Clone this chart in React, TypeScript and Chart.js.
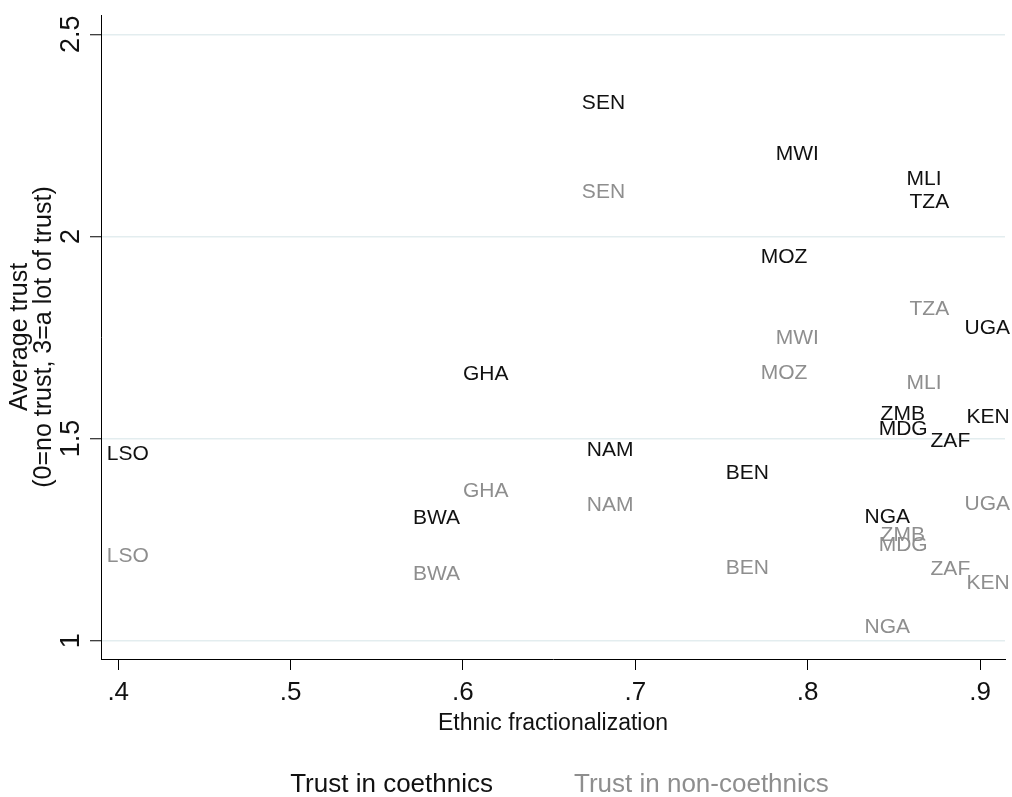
import React, { useEffect, useRef } from "react";
import { Chart, registerables } from "chart.js";

Chart.register(...registerables);

// ---- Data ----
const COUNTRIES = ["LSO", "BWA", "GHA", "SEN", "NAM", "BEN", "MOZ", "MWI", "NGA", "ZMB", "MDG", "MLI", "TZA", "ZAF", "KEN", "UGA"];
const FRACTIONALIZATION = [0.3905, 0.5681, 0.5971, 0.6661, 0.669, 0.7496, 0.7699, 0.7786, 0.8301, 0.8394, 0.8383, 0.8545, 0.8562, 0.8684, 0.8893, 0.8881];
const TRUST_COETHNICS = [1.465, 1.307, 1.663, 2.332, 1.475, 1.418, 1.953, 2.208, 1.309, 1.564, 1.527, 2.146, 2.089, 1.498, 1.557, 1.777];
const TRUST_NONCOETHNICS = [1.213, 1.168, 1.374, 2.114, 1.339, 1.183, 1.666, 1.752, 1.037, 1.265, 1.24, 1.641, 1.824, 1.181, 1.146, 1.342];

const SERIES_NAMES = ["Trust in coethnics", "Trust in non-coethnics"];
const X_TICKS = [0.4, 0.5, 0.6, 0.7, 0.8, 0.9];
const X_TICK_LABELS = [".4", ".5", ".6", ".7", ".8", ".9"];
const Y_TICKS = [1, 1.5, 2, 2.5];
const Y_TICK_LABELS = ["1", "1.5", "2", "2.5"];
const X_TITLE = "Ethnic fractionalization";
const Y_TITLE = ["Average trust", "(0=no trust, 3=a lot of trust)"];

const FONT = "'Liberation Sans', Arial, Helvetica, sans-serif";
const BLACK = "#111111";
const GRAY = "#8e8e8e";

const labelPlugin = {
  id: "countryLabels",
  afterDatasetsDraw(chart: any) {
    const ctx = chart.ctx;
    chart.data.datasets.forEach((ds: any, di: number) => {
      const meta = chart.getDatasetMeta(di);
      ctx.save();
      ctx.font = `21px ${FONT}`;
      ctx.fillStyle = ds.labelColor;
      ctx.textAlign = "left";
      ctx.textBaseline = "middle";
      meta.data.forEach((el: any, j: number) => {
        ctx.fillText(COUNTRIES[j], el.x + 5, el.y + 1.5);
      });
      ctx.restore();
    });
  },
};

export default function App() {
  const ref = useRef<HTMLCanvasElement | null>(null);

  useEffect(() => {
    if (!ref.current) return;
    Chart.defaults.font.family = FONT;
    const chart = new Chart(ref.current, {
      type: "scatter",
      data: {
        datasets: [
          {
            label: SERIES_NAMES[0],
            data: FRACTIONALIZATION.map((x, i) => ({ x, y: TRUST_COETHNICS[i] })),
            pointRadius: 0,
            pointHoverRadius: 0,
            backgroundColor: BLACK,
            borderColor: BLACK,
            labelColor: BLACK,
          } as any,
          {
            label: SERIES_NAMES[1],
            data: FRACTIONALIZATION.map((x, i) => ({ x, y: TRUST_NONCOETHNICS[i] })),
            pointRadius: 0,
            pointHoverRadius: 0,
            backgroundColor: GRAY,
            borderColor: GRAY,
            labelColor: GRAY,
          } as any,
        ],
      },
      options: {
        responsive: false,
        animation: false,
        events: [],
        layout: { padding: { top: 15, right: 7, left: 0, bottom: -11 } },
        plugins: {
          tooltip: { enabled: false },
          legend: {
            position: "bottom",
            fullSize: false,
            labels: {
              font: { size: 26, family: FONT },
              boxWidth: 0,
              boxHeight: 0,
              padding: 68,
              generateLabels: (chart: any) =>
                chart.data.datasets.map((ds: any, i: number) => ({
                  text: ds.label,
                  fontColor: ds.labelColor,
                  fillStyle: "rgba(0,0,0,0)",
                  strokeStyle: "rgba(0,0,0,0)",
                  lineWidth: 0,
                  hidden: false,
                  datasetIndex: i,
                })),
            },
          },
        },
        scales: {
          x: {
            type: "linear",
            min: 0.39,
            max: 0.9145,
            afterBuildTicks: (scale: any) => {
              scale.ticks = X_TICKS.map((v) => ({ value: v }));
            },
            afterFit: (scale: any) => {
              scale.height = 45;
              scale.paddingLeft = 0;
              scale.paddingRight = 0;
            },
            ticks: {
              autoSkip: false,
              maxRotation: 0,
              minRotation: 0,
              padding: 7,
              color: BLACK,
              font: { size: 26, family: FONT },
              callback: (_v: any, i: number) => X_TICK_LABELS[i],
            },
            grid: {
              drawOnChartArea: false,
              drawTicks: true,
              tickLength: 11,
              tickColor: "#000",
              tickWidth: 1,
            },
            border: { display: true, color: "#000", width: 1 },
            title: {
              display: true,
              text: X_TITLE,
              color: BLACK,
              font: { size: 23, family: FONT },
              padding: { top: 0, bottom: -33 },
            },
          },
          y: {
            type: "linear",
            min: 0.9547,
            max: 2.5477,
            afterBuildTicks: (scale: any) => {
              scale.ticks = Y_TICKS.map((v) => ({ value: v }));
            },
            afterFit: (scale: any) => {
              scale.width = 101;
              scale.paddingTop = 0;
              scale.paddingBottom = 0;
            },
            ticks: {
              autoSkip: false,
              minRotation: 90,
              maxRotation: 90,
              crossAlign: "center",
              padding: 0,
              color: BLACK,
              font: { size: 27, family: FONT },
              callback: (_v: any, i: number) => Y_TICK_LABELS[i],
            },
            grid: {
              drawOnChartArea: true,
              color: "#e3edef",
              lineWidth: 1.5,
              drawTicks: true,
              tickLength: 11,
              tickColor: "#000",
              tickWidth: 1,
            },
            border: { display: true, color: "#000", width: 1 },
            title: {
              display: true,
              text: Y_TITLE,
              color: BLACK,
              font: { size: 25, family: FONT, lineHeight: 0.96 },
              padding: { top: 8, bottom: 0 },
            },
          },
        },
      },
      plugins: [labelPlugin],
    } as any);
    return () => chart.destroy();
  }, []);

  return (
    <div style={{ position: "absolute", left: 0, top: 0, width: 1012, height: 797, background: "#fff" }}>
      <canvas ref={ref} width={1012} height={797} style={{ display: "block", width: 1012, height: 797 }} />
    </div>
  );
}
